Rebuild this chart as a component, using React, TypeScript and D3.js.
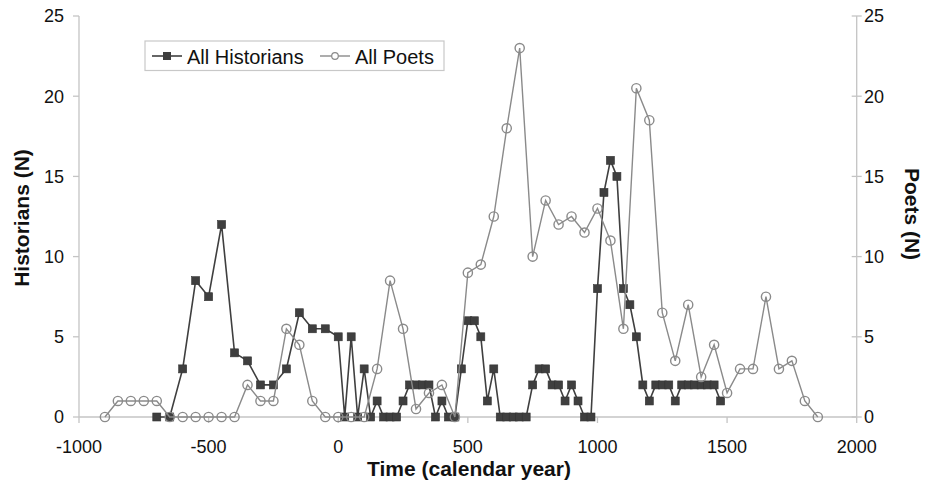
import React, { useEffect, useRef } from "react";
import * as d3 from "d3";

const historianYears = [
  -700, -650, -600, -550, -500, -450, -400, -350, -300, -250, -200, -150, -100, -50,
  0, 25, 50, 75, 100, 125, 150, 175, 200, 225, 250, 275, 300, 325, 350, 375, 400, 425, 450,
  475, 500, 525, 550, 575, 600, 625, 650, 675, 700, 725, 750, 775, 800, 825, 850, 875, 900,
  925, 950, 975, 1000, 1025, 1050, 1075, 1100, 1125, 1150, 1175, 1200, 1225, 1250, 1275,
  1300, 1325, 1350, 1375, 1400, 1425, 1450, 1475,
];
const historianCounts = [
  0, 0, 3, 8.5, 7.5, 12, 4, 3.5, 2, 2, 3, 6.5, 5.5, 5.5,
  5, 0, 5, 0, 3, 0, 1, 0, 0, 0, 1, 2, 2, 2, 2, 0, 1, 0, 0,
  3, 6, 6, 5, 1, 3, 0, 0, 0, 0, 0, 2, 3, 3, 2, 2, 1, 2,
  1, 0, 0, 8, 14, 16, 15, 8, 7, 5, 2, 1, 2, 2, 2,
  1, 2, 2, 2, 2, 2, 2, 1,
];

const poetYears = [
  -900, -850, -800, -750, -700, -650, -600, -550, -500, -450, -400, -350, -300, -250,
  -200, -150, -100, -50, 0, 50, 100, 150, 200, 250, 300, 350, 400, 450, 500, 550, 600,
  650, 700, 750, 800, 850, 900, 950, 1000, 1050, 1100, 1150, 1200, 1250, 1300, 1350,
  1400, 1450, 1500, 1550, 1600, 1650, 1700, 1750, 1800, 1850,
];
const poetCounts = [
  0, 1, 1, 1, 1, 0, 0, 0, 0, 0, 0, 2, 1, 1,
  5.5, 4.5, 1, 0, 0, 0, 0, 3, 8.5, 5.5, 0.5, 1.5, 2, 0, 9, 9.5, 12.5,
  18, 23, 10, 13.5, 12, 12.5, 11.5, 13, 11, 5.5, 20.5, 18.5, 6.5, 3.5, 7,
  2.5, 4.5, 1.5, 3, 3, 7.5, 3, 3.5, 1, 0,
];

const xTicks = [-1000, -500, 0, 500, 1000, 1500, 2000];
const yTicks = [0, 5, 10, 15, 20, 25];

const seriesNames = ["All Historians", "All Poets"];
const xTitle = "Time (calendar year)";
const yLeftTitle = "Historians (N)";
const yRightTitle = "Poets (N)";

const W = 925;
const H = 482;
const FONT = "'Liberation Sans', Arial, Helvetica, sans-serif";
const AXIS = "#c4c4c4";
const HIST = "#3f3f3f";
const POET = "#8a8a8a";

export default function App() {
  const ref = useRef<SVGSVGElement | null>(null);

  useEffect(() => {
    document.body.style.margin = "0";
    const svg = d3.select(ref.current);
    svg.selectAll("*").remove();

    const x = d3.scaleLinear().domain([-1000, 2000]).range([79, 856.7]);
    const y = d3.scaleLinear().domain([0, 25]).range([417, 16]);

    svg.append("rect").attr("width", W).attr("height", H).attr("fill", "#fff");

    // axes
    const g = svg.append("g");
    g.append("line").attr("x1", x(-1000)).attr("x2", x(-1000)).attr("y1", y(25)).attr("y2", y(0)).attr("stroke", AXIS).attr("stroke-width", 1.3);
    g.append("line").attr("x1", x(2000)).attr("x2", x(2000)).attr("y1", y(25)).attr("y2", y(0)).attr("stroke", AXIS).attr("stroke-width", 1.3);
    g.append("line").attr("x1", x(-1000)).attr("x2", x(2000)).attr("y1", y(0)).attr("y2", y(0)).attr("stroke", AXIS).attr("stroke-width", 1.3);

    yTicks.forEach((t) => {
      g.append("line").attr("x1", x(-1000) - 6).attr("x2", x(-1000)).attr("y1", y(t)).attr("y2", y(t)).attr("stroke", AXIS).attr("stroke-width", 1.3);
      g.append("line").attr("x1", x(2000) - 5).attr("x2", x(2000) + 5).attr("y1", y(t)).attr("y2", y(t)).attr("stroke", AXIS).attr("stroke-width", 1.3);
      g.append("text").attr("x", 64).attr("y", y(t)).attr("dy", "0.35em").attr("text-anchor", "end")
        .attr("font-family", FONT).attr("font-size", 18).attr("fill", "#111").text(String(t));
      g.append("text").attr("x", 864).attr("y", y(t)).attr("dy", "0.35em").attr("text-anchor", "start")
        .attr("font-family", FONT).attr("font-size", 18).attr("fill", "#111").text(String(t));
    });
    xTicks.forEach((t) => {
      g.append("line").attr("x1", x(t)).attr("x2", x(t)).attr("y1", y(0)).attr("y2", y(0) + 6).attr("stroke", AXIS).attr("stroke-width", 1.3);
      g.append("text").attr("x", x(t)).attr("y", 453).attr("text-anchor", "middle")
        .attr("font-family", FONT).attr("font-size", 18).attr("fill", "#111").text(String(t));
    });

    // titles
    svg.append("text").attr("x", 469).attr("y", 476).attr("text-anchor", "middle")
      .attr("font-family", FONT).attr("font-size", 21).attr("font-weight", "bold").attr("fill", "#111").text(xTitle);
    svg.append("text").attr("transform", "translate(29,218) rotate(-90)").attr("text-anchor", "middle")
      .attr("font-family", FONT).attr("font-size", 21).attr("font-weight", "bold").attr("fill", "#111").text(yLeftTitle);
    svg.append("text").attr("transform", "translate(905,214) rotate(90)").attr("text-anchor", "middle")
      .attr("font-family", FONT).attr("font-size", 21).attr("font-weight", "bold").attr("fill", "#111").text(yRightTitle);

    // historians
    const hData = historianYears.map((yr, i) => [yr, historianCounts[i]] as [number, number]);
    const pData = poetYears.map((yr, i) => [yr, poetCounts[i]] as [number, number]);
    const line = d3.line<[number, number]>().x((d) => x(d[0])).y((d) => y(d[1]));

    svg.append("path").attr("d", line(hData)).attr("fill", "none").attr("stroke", HIST).attr("stroke-width", 1.6);
    svg.append("g").selectAll("rect").data(hData).join("rect")
      .attr("x", (d) => x(d[0]) - 4).attr("y", (d) => y(d[1]) - 4)
      .attr("width", 8).attr("height", 8).attr("fill", HIST).attr("stroke", "#333").attr("stroke-width", 0.6);

    svg.append("path").attr("d", line(pData)).attr("fill", "none").attr("stroke", POET).attr("stroke-width", 1.4);
    svg.append("g").selectAll("circle").data(pData).join("circle")
      .attr("cx", (d) => x(d[0])).attr("cy", (d) => y(d[1])).attr("r", 4.6)
      .attr("fill", "none").attr("stroke", POET).attr("stroke-width", 1.4);

    // legend
    const lg = svg.append("g");
    lg.append("rect").attr("x", 145).attr("y", 41).attr("width", 299).attr("height", 29.5)
      .attr("fill", "#fff").attr("stroke", "#c8c8c8").attr("stroke-width", 1.2);
    lg.append("line").attr("x1", 152).attr("x2", 182).attr("y1", 56).attr("y2", 56).attr("stroke", HIST).attr("stroke-width", 1.6);
    lg.append("rect").attr("x", 163).attr("y", 52).attr("width", 8).attr("height", 8).attr("fill", HIST);
    lg.append("text").attr("x", 187).attr("y", 63.5).attr("font-family", FONT).attr("font-size", 20).attr("fill", "#111").text(seriesNames[0]);
    lg.append("line").attr("x1", 320).attr("x2", 350).attr("y1", 56).attr("y2", 56).attr("stroke", POET).attr("stroke-width", 1.4);
    lg.append("circle").attr("cx", 335).attr("cy", 56).attr("r", 3.3).attr("fill", "#fff").attr("stroke", POET).attr("stroke-width", 1.2);
    lg.append("text").attr("x", 355).attr("y", 63.5).attr("font-family", FONT).attr("font-size", 20).attr("fill", "#111").text(seriesNames[1]);
  }, []);

  return <svg ref={ref} width={W} height={H} style={{ display: "block" }} />;
}
